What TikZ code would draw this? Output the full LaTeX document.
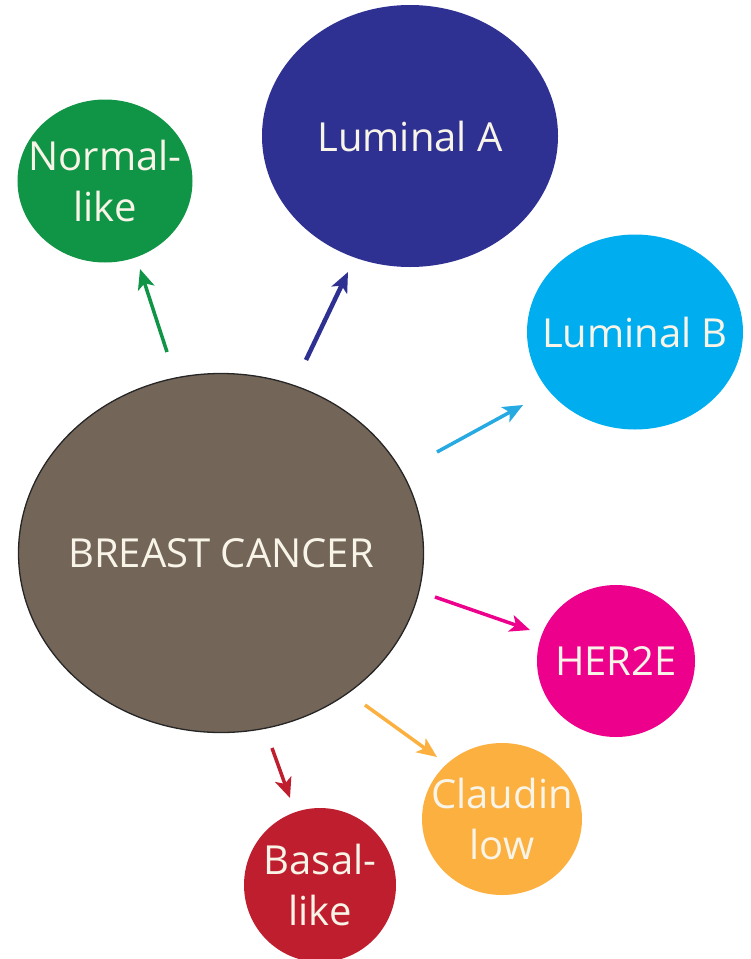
\documentclass[tikz,border=0pt]{standalone}
\usepackage{fontspec}
\setmainfont{Open Sans}
\usetikzlibrary{shapes.geometric,arrows.meta}
\definecolor{cgreen}{RGB}{16,148,70}
\definecolor{cnavy}{RGB}{46,49,146}
\definecolor{csky}{RGB}{0,174,239}
\definecolor{cskyarrow}{RGB}{39,170,225}
\definecolor{cpink}{RGB}{236,0,140}
\definecolor{corange}{RGB}{251,176,64}
\definecolor{cred}{RGB}{190,30,45}
\definecolor{cbrown}{RGB}{115,101,88}
\definecolor{ctext}{RGB}{248,244,232}
\begin{document}
\begin{tikzpicture}[x=1bp,y=-1bp,
  blob/.style={ellipse, inner sep=0pt},
  blobtext/.style={text=ctext, align=center, inner sep=0pt,
    font=\fontsize{40bp}{51bp}\selectfont},
  arr/.style={line width=3.5bp, -{Stealth[length=20bp,width=17bp,inset=5bp]}}]
\useasboundingbox (0,0) rectangle (751,959);
\node[blob, fill=cbrown, draw=black!85, line width=1.3bp,
  minimum width=405bp, minimum height=359bp,
  label={[blobtext]center:BREAST CANCER}] (bc) at (221,553) {};
\node[blob, fill=cgreen, minimum width=175bp, minimum height=163bp,
  label={[blobtext]center:{Normal-\\like}}] (nl) at (105,181) {};
\node[blob, fill=cnavy, minimum width=296bp, minimum height=262bp,
  label={[blobtext]center:Luminal A}] (la) at (410,136) {};
\node[blob, fill=csky, minimum width=216bp, minimum height=195bp,
  label={[blobtext]center:Luminal B}] (lb) at (635,332) {};
\node[blob, fill=cpink, minimum width=158bp, minimum height=152bp,
  label={[blobtext]center:HER2E}] (her) at (616,661) {};
\node[blob, fill=corange, minimum width=160bp, minimum height=152bp,
  label={[blobtext]center:{Claudin\\low}}] (cl) at (502,819) {};
\node[blob, fill=cred, minimum width=152bp, minimum height=154bp,
  label={[blobtext]center:{Basal-\\like}}] (ba) at (320,885) {};

\coordinate (gT) at (167,352); \coordinate (gH) at (140,269);
\coordinate (nT) at (306,360); \coordinate (nH) at (348,272);
\coordinate (sT) at (437,452); \coordinate (sH) at (523,405);
\coordinate (pT) at (435,597); \coordinate (pH) at (530,630);
\coordinate (oT) at (365,705); \coordinate (oH) at (437,757);
\coordinate (rT) at (272,748); \coordinate (rH) at (290,798);

\draw[arr, cgreen] (gT) -- (gH);
\draw[arr, cnavy, line width=4.5bp] (nT) -- (nH);
\draw[arr, cskyarrow] (sT) -- (sH);
\draw[arr, cpink] (pT) -- (pH);
\draw[arr, corange] (oT) -- (oH);
\draw[arr, cred] (rT) -- (rH);
\end{tikzpicture}
\end{document}
